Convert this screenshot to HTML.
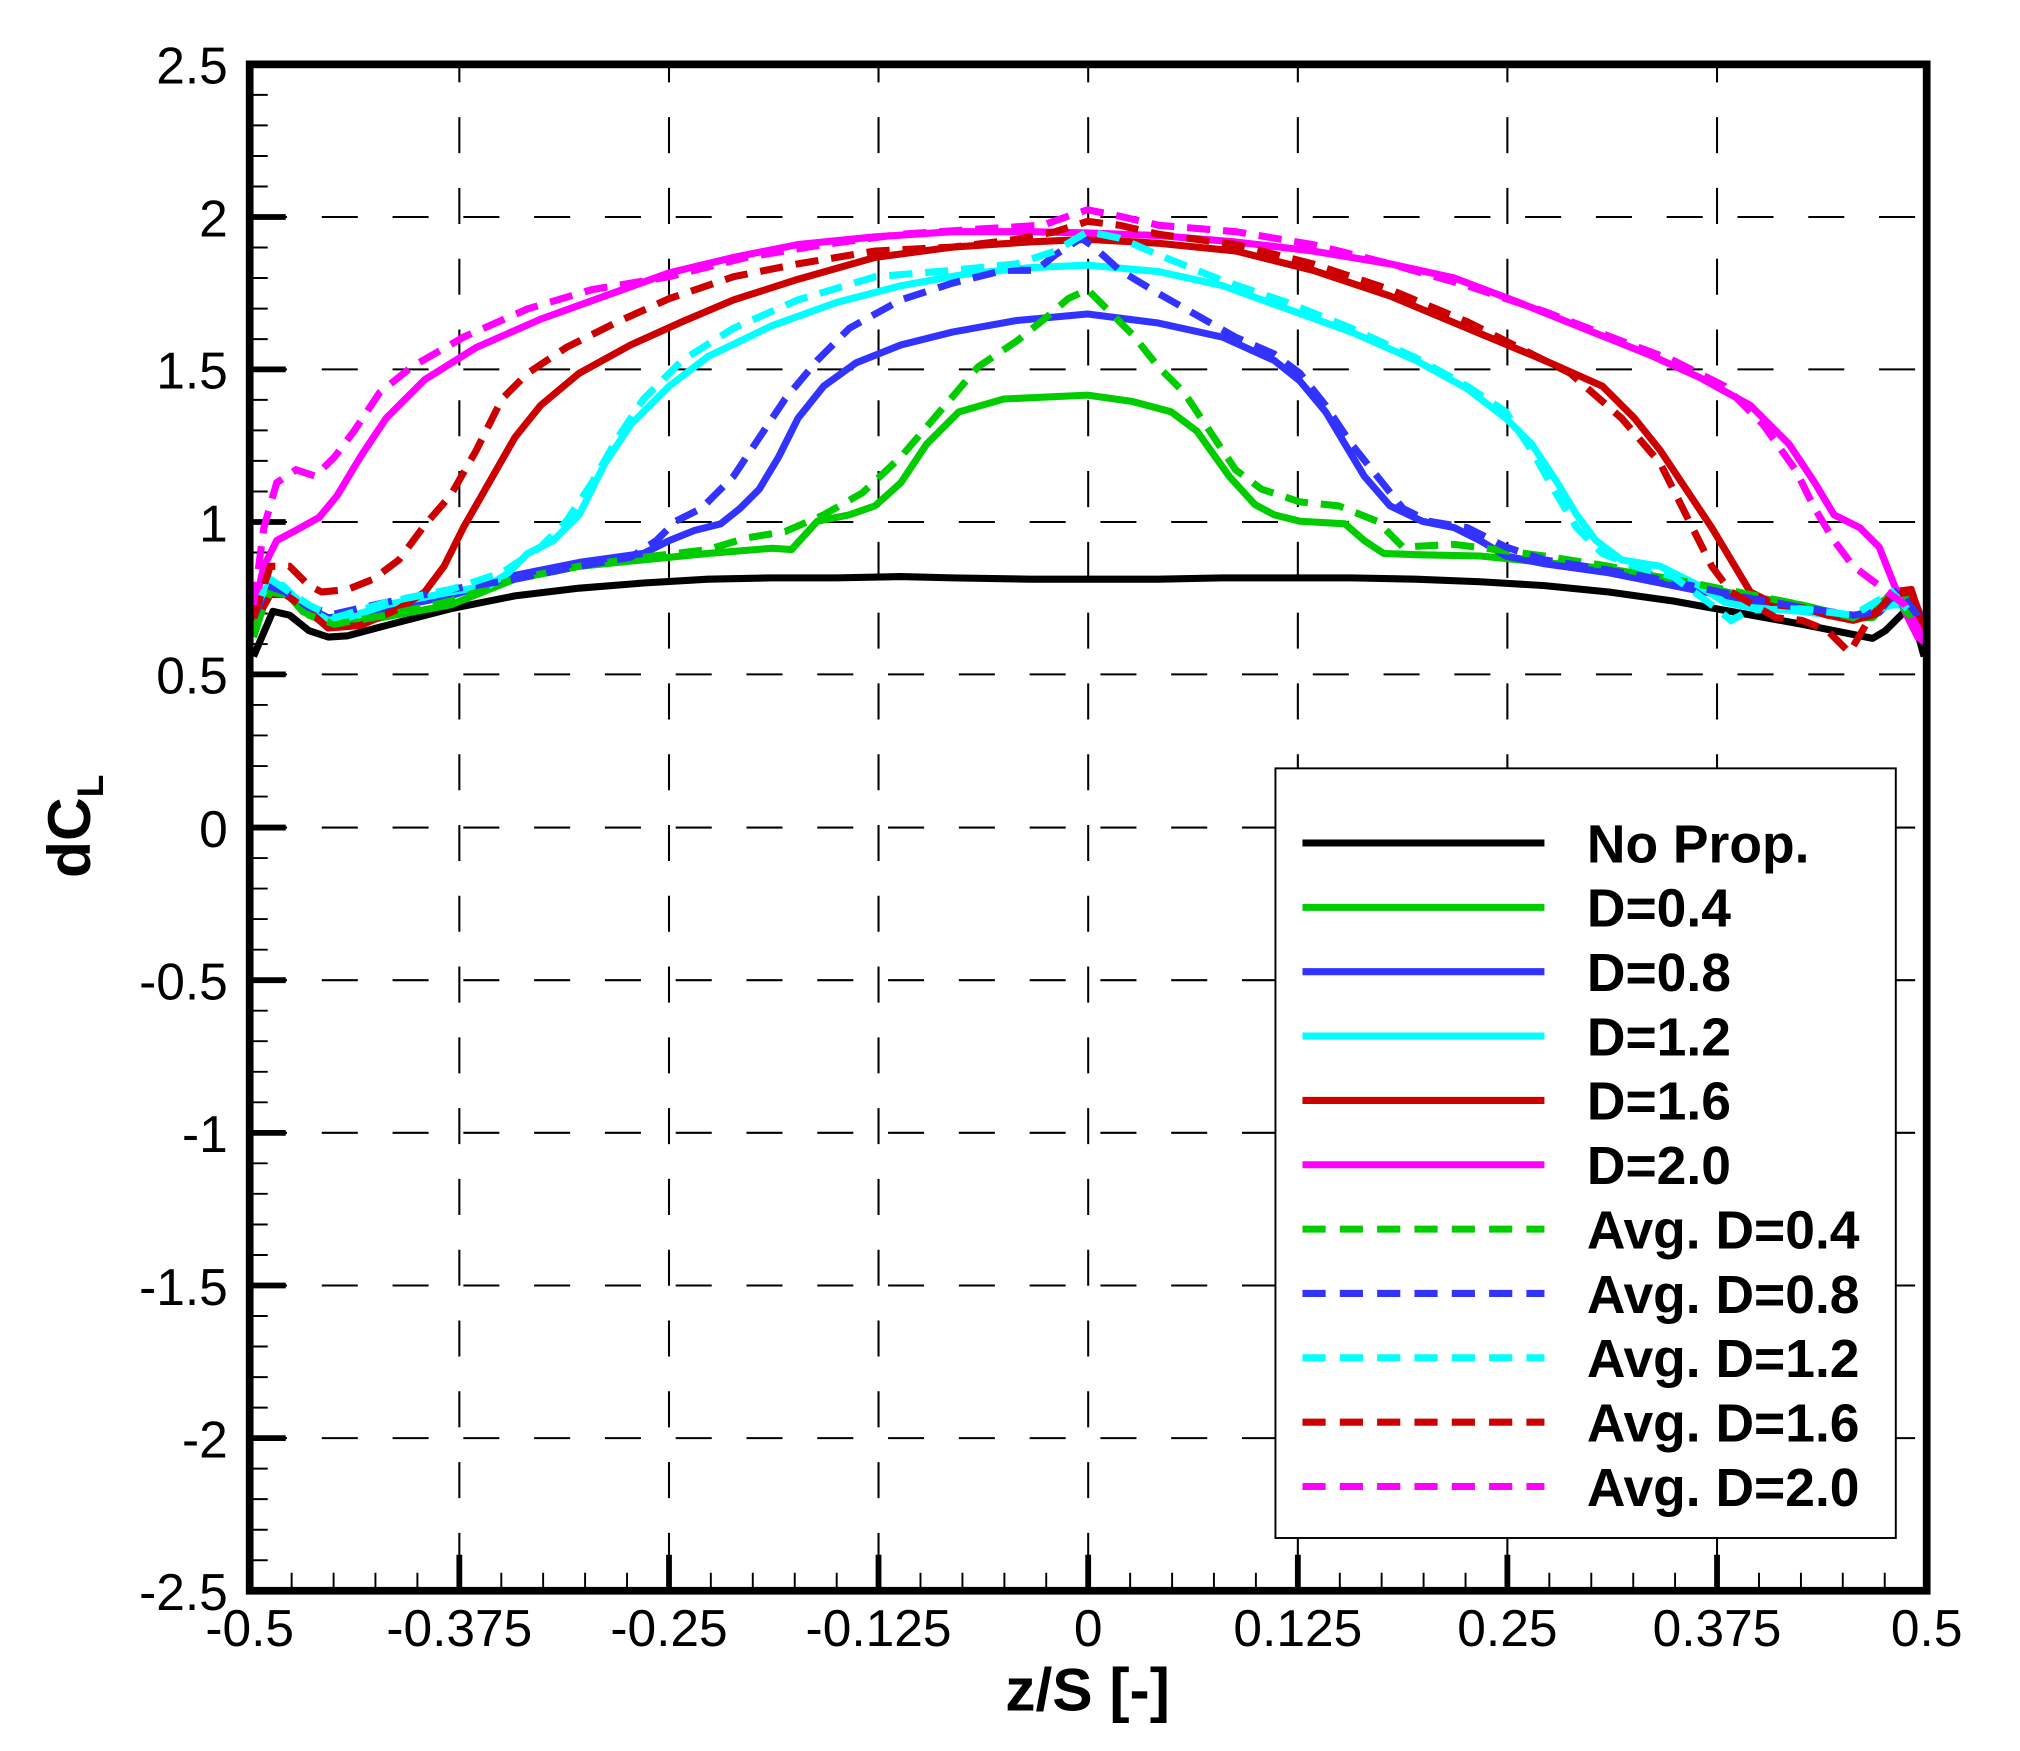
<!DOCTYPE html>
<html><head><meta charset="utf-8"><style>
html,body{margin:0;padding:0;background:#fff;}
svg{display:block;}
text{font-family:"Liberation Sans",Arial,sans-serif;}
</style></head><body>
<svg width="2020" height="1751" viewBox="0 0 1569.5 1360.5" xmlns="http://www.w3.org/2000/svg">
<rect width="1569.5" height="1360.5" fill="#fff"/>
<g stroke="#000" stroke-width="1.6" stroke-dasharray="28 27" fill="none">
<path d="M195 168.6H1497M195 287H1497M195 405.6H1497M195 524H1497M195 643H1497M195 761.6H1497M195 880.2H1497M195 998.8H1497M195 1117.4H1497"/>
<path stroke-dashoffset="14" d="M356.9 50V1236M519.8 50V1236M682.6 50V1236M845.5 50V1236M1008.4 50V1236M1171.2 50V1236M1334.1 50V1236"/>
</g>
<g stroke="#000" fill="none">
<path stroke-width="4.5" d="M194 168.6h28M194 287h28M194 405.6h28M194 524h28M194 643h28M194 761.6h28M194 880.2h28M194 998.8h28M194 1117.4h28"/>
<path stroke-width="1.5" d="M194 73.7h14M194 97.4h14M194 121.2h14M194 144.9h14M194 192.3h14M194 216h14M194 239.8h14M194 263.5h14M194 310.7h14M194 334.4h14M194 358.1h14M194 381.9h14M194 429.3h14M194 453h14M194 476.7h14M194 500.4h14M194 547.7h14M194 571.4h14M194 595.2h14M194 618.9h14M194 666.7h14M194 690.4h14M194 714.1h14M194 737.9h14M194 785.3h14M194 809h14M194 832.8h14M194 856.5h14M194 903.9h14M194 927.6h14M194 951.4h14M194 975.1h14M194 1022.5h14M194 1046.2h14M194 1070h14M194 1093.7h14M194 1141.1h14M194 1164.8h14M194 1188.6h14M194 1212.3h14"/>
<path stroke-width="4.5" d="M356.9 1236v-28M519.8 1236v-28M682.6 1236v-28M845.5 1236v-28M1008.4 1236v-28M1171.2 1236v-28M1334.1 1236v-28"/>
<path stroke-width="1.5" d="M226.6 1236v-14M259.2 1236v-14M291.7 1236v-14M324.3 1236v-14M389.5 1236v-14M422 1236v-14M454.6 1236v-14M487.2 1236v-14M552.3 1236v-14M584.9 1236v-14M617.5 1236v-14M650.1 1236v-14M715.2 1236v-14M747.8 1236v-14M780.4 1236v-14M812.9 1236v-14M878.1 1236v-14M910.7 1236v-14M943.2 1236v-14M975.8 1236v-14M1041 1236v-14M1073.5 1236v-14M1106.1 1236v-14M1138.7 1236v-14M1203.8 1236v-14M1236.4 1236v-14M1269 1236v-14M1301.5 1236v-14M1366.7 1236v-14M1399.3 1236v-14M1431.8 1236v-14M1464.4 1236v-14"/>
</g>
<g fill="none" stroke-width="5.5" stroke-linejoin="round">
<path stroke="#000" d="M197 510L212 475L225 478L240 490L255 495L270 494L300 486L350 473L400 463L450 457L500 453L550 450L600 449L650 449L700 448L740 449L800 450L845 450L900 450L950 449L1000 449L1050 449L1100 450L1150 452L1200 455L1250 460L1300 467L1350 476L1400 485L1440 493L1455 496L1465 490L1478 477L1484 476L1490 492L1495 510"/>
<path stroke="#00cc00" d="M197 495L205 470L212 458L222 460L235 475L255 485L280 483L350 470L400 450L450 440L500 435L550 430L600 426L615 427L635 405L660 400L680 393L700 375L720 345L745 320L780 310L845 307L880 312L910 320L930 335L955 370L975 392L990 400L1010 405L1045 407L1060 420L1075 430L1100 431L1150 432L1200 437L1250 442L1300 450L1350 462L1400 470L1440 480L1455 480L1470 465L1482 463L1497 495"/>
<path stroke="#3333ff" d="M197 485L208 462L220 460L235 470L255 480L280 477L350 463L400 447L450 437L500 430L520 420L540 412L560 407L575 395L590 380L605 355L620 325L640 300L665 282L700 268L740 258L790 249L845 244L900 251L950 262L990 280L1010 296L1030 320L1045 345L1060 370L1080 393L1105 405L1130 410L1150 420L1170 432L1200 438L1250 445L1300 455L1350 465L1400 475L1440 480L1460 476L1475 460L1485 460L1497 490"/>
<path stroke="#00ffff" d="M197 480L208 455L220 455L235 470L255 482L270 480L300 470L350 460L380 455L395 445L410 430L430 420L450 400L470 360L490 330L520 300L550 277L600 253L650 235L700 222L750 213L800 208L845 206L900 211L950 222L1000 240L1050 258L1100 280L1140 302L1170 325L1190 345L1210 375L1225 400L1240 420L1260 435L1290 440L1320 455L1340 468L1360 472L1400 475L1440 480L1470 470L1485 470L1497 490"/>
<path stroke="#cc0000" d="M197 485L210 462L222 462L240 475L255 488L280 486L310 473L330 460L345 440L360 410L380 375L400 340L420 315L450 290L490 268L530 250L570 233L620 217L680 200L740 192L800 188L845 186L900 189L960 195L1020 210L1080 230L1140 255L1200 280L1245 300L1270 325L1290 350L1310 380L1330 410L1345 435L1360 460L1380 470L1400 472L1420 478L1440 482L1455 478L1470 460L1485 458L1497 495"/>
<path stroke="#ff00ff" d="M197 475L205 440L215 420L230 412L248 402L262 385L280 355L300 325L330 295L370 270L420 248L470 230L520 212L570 200L620 190L680 184L740 180L800 180L845 181L900 183L960 188L1020 195L1080 205L1130 216L1180 235L1230 255L1280 275L1320 293L1360 315L1390 345L1410 375L1425 400L1445 410L1460 425L1470 450L1480 475L1490 495L1497 500"/>
</g>
<g fill="none" stroke-width="5.5" stroke-dasharray="18 10">
<path stroke="#00cc00" d="M197 490L210 460L222 462L240 478L260 485L300 478L350 467L400 450L450 440L500 433L550 427L580 418L610 413L640 400L670 383L700 355L730 320L760 285L790 265L815 245L830 232L845 225L860 240L880 260L900 285L920 305L940 335L960 365L980 380L1010 390L1040 393L1070 405L1090 425L1130 423L1170 428L1200 432L1250 440L1300 450L1350 460L1400 470L1440 480L1470 463L1497 492"/>
<path stroke="#3333ff" d="M197 480L208 455L222 460L240 472L260 477L300 468L350 458L400 450L450 440L490 433L510 420L525 405L545 395L570 370L590 340L610 310L635 280L660 255L700 233L740 220L780 210L805 210L820 198L840 185L850 192L870 210L900 228L930 245L960 262L990 275L1010 290L1030 315L1050 345L1070 370L1090 395L1110 405L1140 410L1170 425L1200 435L1250 443L1300 452L1350 463L1400 472L1440 478L1460 475L1475 458L1497 488"/>
<path stroke="#00ffff" d="M197 475L210 450L225 460L240 470L260 480L300 468L350 458L390 445L420 425L440 405L460 375L480 340L500 310L530 280L570 255L620 233L680 215L740 210L790 205L820 195L845 180L870 185L900 198L950 218L1000 235L1050 255L1100 278L1140 300L1170 320L1190 350L1210 385L1225 410L1245 430L1270 440L1300 448L1330 470L1345 482L1360 474L1400 473L1440 478L1470 460L1497 490"/>
<path stroke="#cc0000" d="M197 480L210 440L225 440L240 455L250 460L270 458L290 450L310 435L330 408L350 385L370 350L390 310L410 290L440 270L480 250L520 232L570 215L620 205L680 195L740 192L790 186L820 180L845 172L870 175L900 182L960 190L1020 205L1080 225L1140 250L1180 270L1220 290L1260 325L1290 360L1310 400L1330 440L1345 460L1380 480L1400 482L1420 490L1437 507L1450 485L1470 462L1485 460L1497 495"/>
<path stroke="#ff00ff" d="M197 470L205 410L215 375L230 365L245 370L260 355L275 335L295 305L320 285L360 262L410 240L460 225L520 215L580 200L640 190L700 182L760 178L810 175L830 168L845 163L870 168L900 175L960 180L1020 190L1080 205L1140 222L1200 242L1260 265L1300 280L1340 300L1370 330L1395 365L1410 395L1425 420L1440 440L1460 455L1480 470L1497 500"/>
</g>
<rect x="194" y="50" width="1303" height="1186" fill="none" stroke="#000" stroke-width="6"/>
<rect x="991" y="597" width="482" height="598" fill="#fff" stroke="#000" stroke-width="1.5"/>
<g stroke-width="5.5" fill="none">
<path stroke="#000" d="M1012 655H1200"/>
<path stroke="#00cc00" d="M1012 705H1200"/>
<path stroke="#3333ff" d="M1012 755H1200"/>
<path stroke="#00ffff" d="M1012 805H1200"/>
<path stroke="#cc0000" d="M1012 855H1200"/>
<path stroke="#ff00ff" d="M1012 905H1200"/>
<g stroke-dasharray="18 11">
<path stroke="#00cc00" d="M1012 955H1200"/>
<path stroke="#3333ff" d="M1012 1005H1200"/>
<path stroke="#00ffff" d="M1012 1055H1200"/>
<path stroke="#cc0000" d="M1012 1105H1200"/>
<path stroke="#ff00ff" d="M1012 1155H1200"/>
</g>
</g>
<g font-size="41.5" font-weight="bold" fill="#000">
<text x="1233" y="670">No Prop.</text>
<text x="1233" y="720">D=0.4</text>
<text x="1233" y="770">D=0.8</text>
<text x="1233" y="820">D=1.2</text>
<text x="1233" y="870">D=1.6</text>
<text x="1233" y="920">D=2.0</text>
<text x="1233" y="970">Avg. D=0.4</text>
<text x="1233" y="1020">Avg. D=0.8</text>
<text x="1233" y="1070">Avg. D=1.2</text>
<text x="1233" y="1120">Avg. D=1.6</text>
<text x="1233" y="1170">Avg. D=2.0</text>
</g>
<g font-size="40" text-anchor="end" fill="#000">
<text x="177" y="65">2.5</text>
<text x="177" y="183.6">2</text>
<text x="177" y="302">1.5</text>
<text x="177" y="420.6">1</text>
<text x="177" y="539">0.5</text>
<text x="177" y="658">0</text>
<text x="177" y="776.6">-0.5</text>
<text x="177" y="895.2">-1</text>
<text x="177" y="1013.8">-1.5</text>
<text x="177" y="1132.4">-2</text>
<text x="177" y="1251">-2.5</text>
</g>
<g font-size="40" text-anchor="middle" fill="#000">
<text x="194" y="1279">-0.5</text>
<text x="356.9" y="1279">-0.375</text>
<text x="519.8" y="1279">-0.25</text>
<text x="682.6" y="1279">-0.125</text>
<text x="845.5" y="1279">0</text>
<text x="1008.4" y="1279">0.125</text>
<text x="1171.2" y="1279">0.25</text>
<text x="1334.1" y="1279">0.375</text>
<text x="1497" y="1279">0.5</text>
</g>
<text x="845" y="1329" font-size="47" font-weight="bold" text-anchor="middle">z/S [-]</text>
<g transform="translate(70,642) rotate(-90)">
<text x="0" y="0" font-size="47" font-weight="bold" text-anchor="middle">dC<tspan font-size="29" dy="10">L</tspan></text>
</g>
</svg>
</body></html>
